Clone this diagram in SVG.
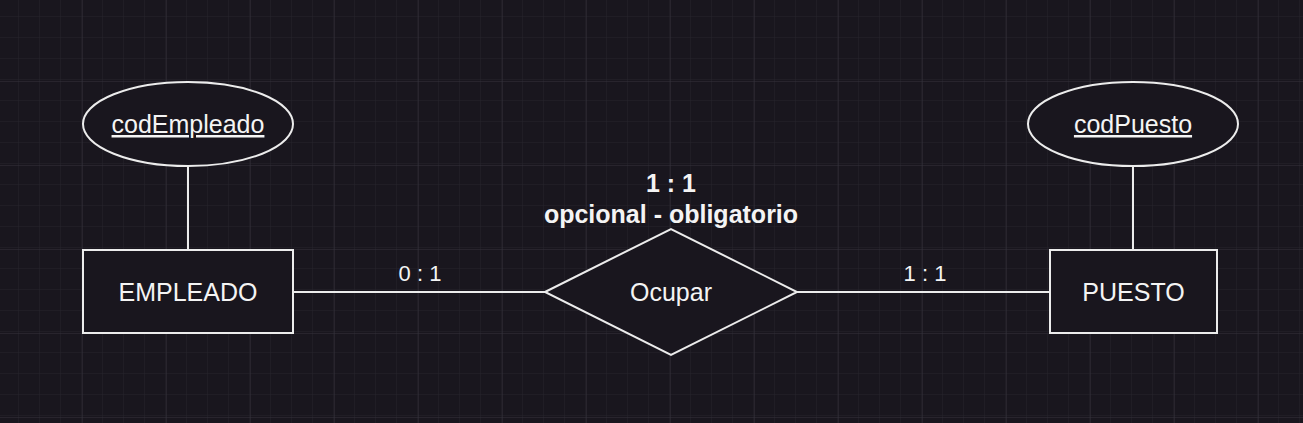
<svg xmlns="http://www.w3.org/2000/svg" width="1303" height="423" viewBox="0 0 1303 423">
  <defs>
    <pattern id="minor" x="-1" y="-2" width="21" height="21" patternUnits="userSpaceOnUse">
      <path d="M21 0V21M0 21H21" fill="none" stroke="#26232c" stroke-width="1"/>
    </pattern>
    <pattern id="major" x="-1" y="-2" width="84" height="84" patternUnits="userSpaceOnUse">
      <rect width="84" height="84" fill="url(#minor)"/>
      <path d="M84 0V84M0 84H84" fill="none" stroke="#35323b" stroke-width="1"/>
    </pattern>
    <style>
      .shape { fill: #19161e; stroke: #ececec; stroke-width: 2; }
      .line { fill: none; stroke: #ececec; stroke-width: 2; }
      .t { font-family: "Liberation Sans", Arial, sans-serif; fill: #f4f4f4; text-anchor: middle; }
      .n { font-size: 25px; }
      .e { font-size: 22px; }
      .b { font-size: 25px; font-weight: bold; }
      .u { text-decoration: underline; }
    </style>
  </defs>
  <rect width="1303" height="423" fill="#19161e"/>
  <rect width="1303" height="423" fill="url(#major)"/>

  <g id="connectors">
    <path class="line" d="M188 166V250"/>
    <path class="line" d="M1133 166V250"/>
    <path class="line" d="M293 292H545"/>
    <path class="line" d="M797 292H1050"/>
    <text class="t e" x="420" y="281">0 : 1</text>
    <text class="t e" x="925" y="281">1 : 1</text>
  </g>

  <g id="attr-codEmpleado">
    <ellipse class="shape" cx="188" cy="124" rx="105" ry="42"/>
    <text class="t n u" x="188" y="133">codEmpleado</text>
  </g>
  <g id="attr-codPuesto">
    <ellipse class="shape" cx="1133" cy="124" rx="105" ry="42"/>
    <text class="t n u" x="1133" y="133">codPuesto</text>
  </g>
  <g id="entity-empleado">
    <rect class="shape" x="83" y="250" width="210" height="83"/>
    <text class="t n" x="188" y="301">EMPLEADO</text>
  </g>
  <g id="entity-puesto">
    <rect class="shape" x="1050" y="250" width="167" height="83"/>
    <text class="t n" x="1133.5" y="301">PUESTO</text>
  </g>
  <g id="rel-ocupar">
    <polygon class="shape" points="545,292 671,229 797,292 671,355"/>
    <text class="t n" x="671" y="301">Ocupar</text>
  </g>
  <g id="rel-label">
    <text class="t b" x="671" y="192">1 : 1</text>
    <text class="t b" x="671" y="223">opcional - obligatorio</text>
  </g>
</svg>
